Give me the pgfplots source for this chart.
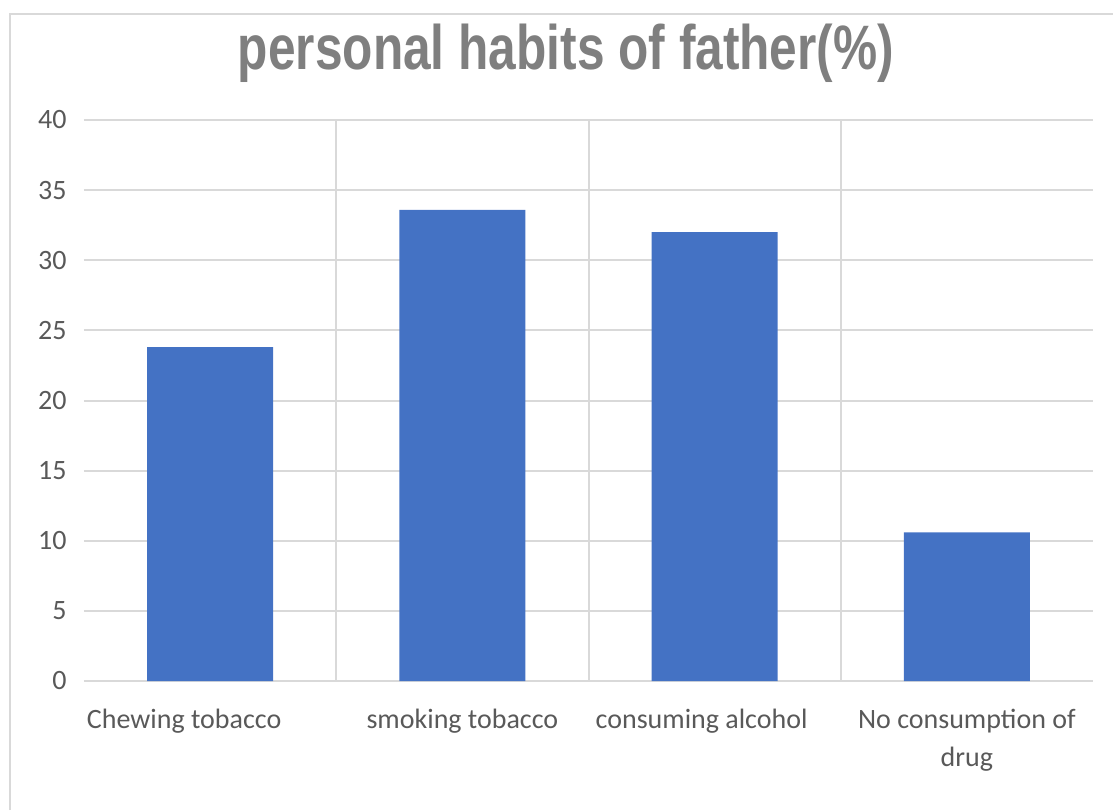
\documentclass[border=0pt]{standalone}
\usepackage{pgfplots}
\pgfplotsset{compat=1.18}
\usepackage{fontspec}
\setmainfont{Carlito}
\newfontfamily\labelfont{Carlito}
\newfontfamily\titlefont[FakeStretch=0.79]{Liberation Sans}
\definecolor{barblue}{HTML}{4472C4}
\definecolor{gridgray}{HTML}{D9D9D9}
\definecolor{ticktext}{HTML}{595959}
\definecolor{titlegray}{HTML}{7F7F7F}
\begin{document}
\begin{tikzpicture}
\path[use as bounding box] (0,0) rectangle (556.5pt,405pt);
\draw[gridgray, line width=0.8pt] (5pt,0) -- (5pt,398pt) -- (556.5pt,398pt);
\node[font=\titlefont\bfseries\fontsize{31.4}{36}\selectfont, text=titlegray, anchor=base, inner sep=0pt] at (283pt,370pt) {personal habits of father(\%)};
\begin{axis}[
  at={(42pt,64.5pt)}, anchor=south west,
  scale only axis, width=504.5pt, height=280.5pt,
  ybar,
  xmin=-0.5, xmax=3.5, ymin=0, ymax=40,
  ytick={0,5,...,40},
  xtick={0,1,2,3},
  xticklabels={Chewing tobacco, smoking tobacco, consuming alcohol, {No consumption of\\drug}},
  minor xtick={0.5,1.5,2.5},
  xminorgrids, ymajorgrids,
  grid style={gridgray, line width=1pt},
  minor grid style={gridgray, line width=1pt},
  axis line style={draw=none},
  major tick length=0pt, minor tick length=0pt,
  tick style={draw=none},
  xticklabel style={font=\labelfont\fontsize{14}{19}\selectfont, text=ticktext, align=center, anchor=north, inner sep=0pt, yshift=-14pt,
    xshift={ifthenelse(\ticknum==0,-13,ifthenelse(\ticknum==2,-6.5,0))}},
  yticklabel style={font=\labelfont\fontsize{14}{17}\selectfont, text=ticktext, anchor=east, inner sep=0pt, xshift=-8.5pt},
  /pgf/number format/assume math mode=true,
]
\addplot[fill=barblue, draw=none, bar width=63pt] coordinates {(0,23.8) (1,33.6) (2,32.0) (3,10.6)};
\end{axis}
\end{tikzpicture}
\end{document}
